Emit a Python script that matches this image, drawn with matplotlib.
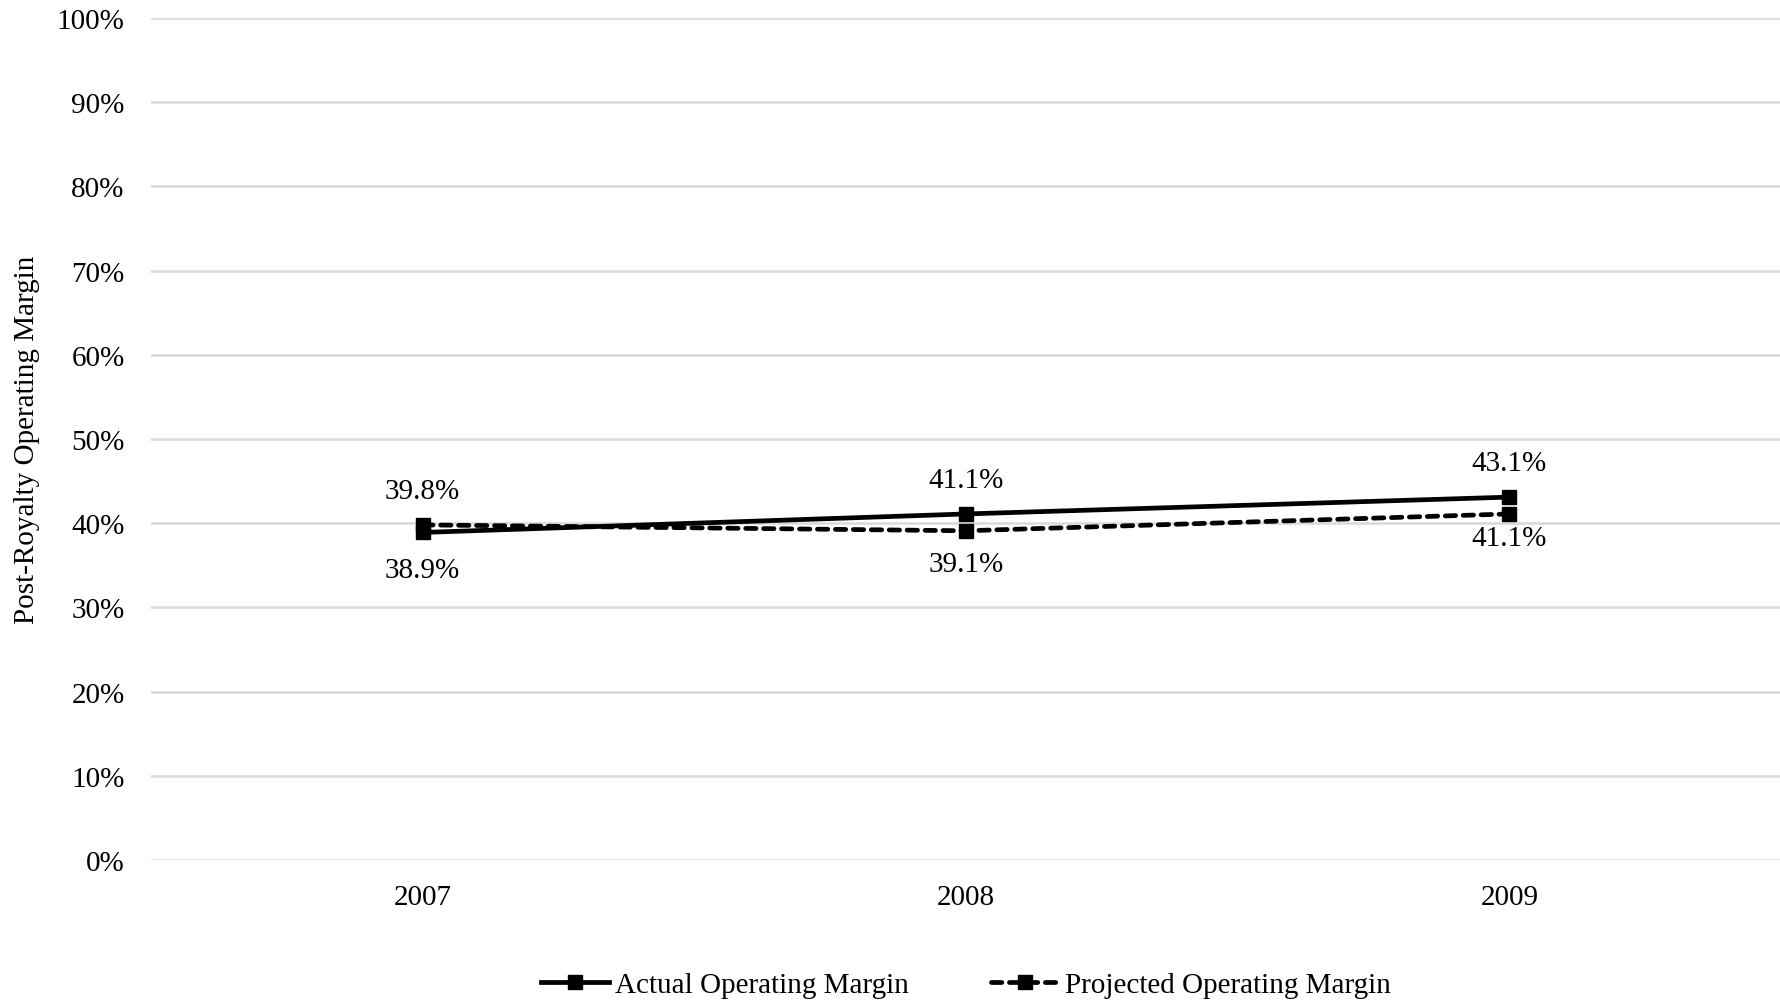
import matplotlib.pyplot as plt
from matplotlib.ticker import PercentFormatter

plt.rcParams['font.family'] = ['Liberation Serif', 'DejaVu Serif']

# operating margin by year, in percent
years = ['2007', '2008', '2009']
actual_margin = [38.9, 41.1, 43.1]
projected_margin = [39.8, 39.1, 41.1]

fig = plt.figure(figsize=(17.81, 10.03), dpi=100)
ax = fig.add_axes([151 / 1781, 1 - 861 / 1003, 1630 / 1781, 842 / 1003])

x = range(len(years))
ax.plot(x, actual_margin, color='black', lw=3.4, marker='s', ms=10.5,
        label='Actual Operating Margin', zorder=3)
ax.plot(x, projected_margin, color='black', lw=3.4, marker='s', ms=10.5,
        linestyle=(0, (2.2, 1.6)), dash_capstyle='round',
        label='Projected Operating Margin', zorder=3)

# the higher value of each year goes above, the lower one below
below_offsets = [-27, -24, -17.5]
for i in x:
    a, p = actual_margin[i], projected_margin[i]
    for v, other in ((a, p), (p, a)):
        dy = 24.5 if v >= other else below_offsets[i]
        ax.annotate(f'{v:.1f}%', (i, v), xytext=(0, dy), textcoords='offset points',
                    ha='center', va='center', fontsize=21)

ax.set_xlim(-0.5, 2.5)
ax.set_ylim(0, 100)
ax.set_yticks(range(0, 101, 10))
ax.yaxis.set_major_formatter(PercentFormatter(decimals=0))
ax.set_xticks(list(x))
ax.set_xticklabels(years)
ax.tick_params(axis='both', length=0, labelsize=21)
ax.tick_params(axis='x', pad=17)
ax.tick_params(axis='y', pad=19)
ax.grid(axis='y', color='#d9d9d9', lw=1.8)
ax.set_axisbelow(True)
for s in ax.spines.values():
    s.set_visible(False)

ax.set_ylabel('Post-Royalty Operating Margin', fontsize=21, labelpad=12)

ax.legend(loc='center', bbox_to_anchor=(0.5, -0.148), ncol=2, frameon=False,
          fontsize=21, handlelength=2.35, handletextpad=0.2, columnspacing=2.8)

fig.savefig('out.png', dpi=100)
